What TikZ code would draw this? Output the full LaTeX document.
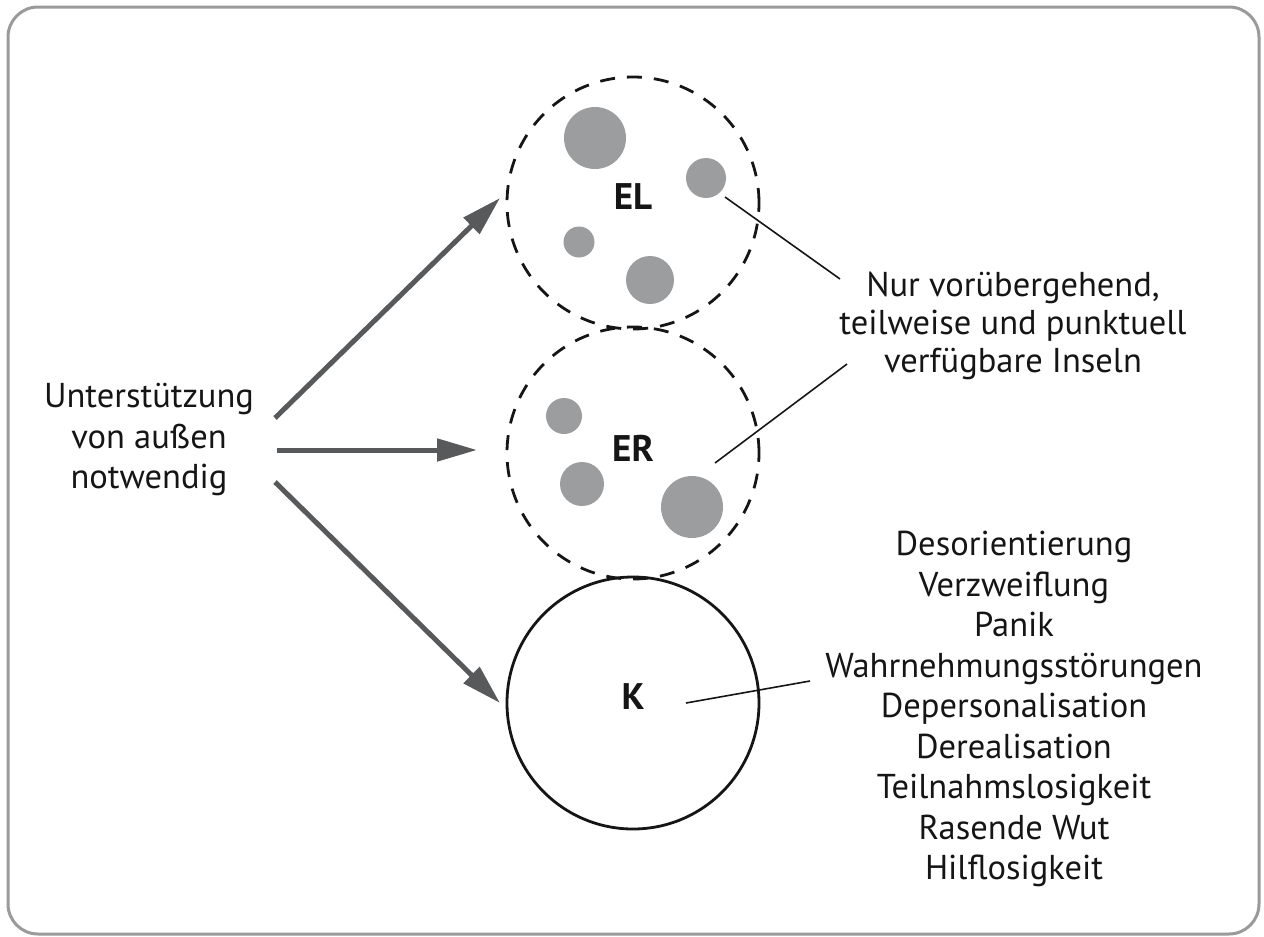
\documentclass[tikz,border=0pt]{standalone}
\usepackage{fontspec}
\setmainfont{PT Sans}
\usetikzlibrary{arrows.meta}
\definecolor{framegray}{HTML}{9A9A9A}
\definecolor{dotgray}{HTML}{9C9D9F}
\definecolor{arrowgray}{HTML}{58595B}
\definecolor{ink}{HTML}{151515}
\begin{document}
\begin{tikzpicture}[x=1pt,y=-1pt,
  txt/.style={align=center,text=ink,font=\fontsize{34.5}{40.5}\selectfont,inner sep=0pt},
  txtb/.style={align=center,text=ink,font=\fontsize{34.5}{38}\selectfont,inner sep=0pt},
  lbl/.style={text=ink,font=\fontsize{37}{40}\selectfont\bfseries,inner sep=0pt},
  ring/.style={circle,draw=ink,line width=2.8pt,minimum size=252pt,inner sep=0pt},
  dashring/.style={ring,dash pattern=on 15pt off 12pt},
  dot/.style={circle,fill=dotgray,inner sep=0pt,minimum size=#1},
  bigarrow/.style={draw=arrowgray,line width=5pt,-{Triangle[length=40pt,width=22pt]}},
  pointer/.style={draw=ink,line width=1.6pt}
]
\useasboundingbox (0,0) rectangle (1264,937);
\draw[framegray,line width=3pt,rounded corners=30pt] (8,7) rectangle (1259,934);

% circles
\node[dashring] (ELc) at (633,203) {};
\node[dashring] (ERc) at (633,453) {};
\node[ring] (Kc) at (633,703) {};

% dots EL
\node[dot=62pt] (d1) at (595,138) {};
\node[dot=40pt] (d2) at (706,178) {};
\node[dot=31pt] (d3) at (579,242) {};
\node[dot=48pt] (d4) at (650,280) {};
% dots ER
\node[dot=36pt] (d5) at (564,416) {};
\node[dot=44pt] (d6) at (582,484) {};
\node[dot=62pt] (d7) at (692,507) {};

% labels
\node[lbl] (EL) at (633,197) {EL};
\node[lbl] (ER) at (633,448) {ER};
\node[lbl] (K) at (633,697) {K};

% texts
\node[txt] (support) at (149,440) {Unterstützung\\von außen\\notwendig};
\node[txtb] (islands) at (1013,326) {Nur vorübergehend,\\teilweise und punktuell\\verfügbare Inseln};
\node[txt] (symptoms) at (1014,709) {Desorientierung\\Verzweiflung\\Panik\\Wahrnehmungsstörungen\\Depersonalisation\\Derealisation\\Teilnahmslosigkeit\\Rasende Wut\\Hilflosigkeit};

% arrow coordinates
\coordinate (a1s) at (275,418);
\coordinate (a1e) at (500,198);
\coordinate (a2s) at (277,450);
\coordinate (a2e) at (477,450);
\coordinate (a3s) at (275,482);
\coordinate (a3e) at (500,703);
\draw[bigarrow] (a1s) -- (a1e);
\draw[bigarrow] (a2s) -- (a2e);
\draw[bigarrow] (a3s) -- (a3e);

% pointer lines
\coordinate (p1s) at (725,197);
\coordinate (p1e) at (840,279);
\coordinate (p2s) at (715,463);
\coordinate (p2e) at (847,364);
\coordinate (p3s) at (686,703);
\coordinate (p3e) at (810,681);
\draw[pointer] (p1s) -- (p1e);
\draw[pointer] (p2s) -- (p2e);
\draw[pointer] (p3s) -- (p3e);
\end{tikzpicture}
\end{document}
